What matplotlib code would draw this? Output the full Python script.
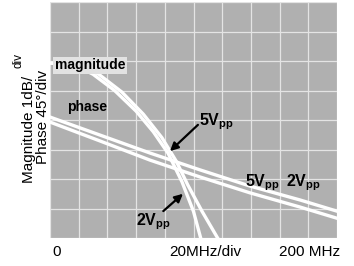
import numpy as np
import matplotlib
matplotlib.use('Agg')
import matplotlib.pyplot as plt

plt.rcParams['font.family'] = ['Liberation Sans', 'DejaVu Sans']
plt.rcParams['mathtext.fontset'] = 'custom'
plt.rcParams['mathtext.bf'] = 'Liberation Sans:bold'
plt.rcParams['mathtext.rm'] = 'Liberation Sans'

## data (x in MHz, y in screen divisions) ################

mag_5v_f = [0, 18.0, 30.0, 45.0, 60.0, 72.0, 82.2, 92.0, 100.0, 105.0]
mag_5v_y = [5.93, 5.85, 5.55, 5.00, 4.30, 3.60, 2.88, 1.90, 0.90, 0.0]
mag_2v_f = [0, 22.0, 34.0, 50.0, 65.0, 78.0, 88.0, 96.0, 106.0, 118.0]
mag_2v_y = [5.93, 5.85, 5.55, 4.95, 4.20, 3.40, 2.60, 1.80, 0.90, -0.1]

phase_5v_f = [0, 34.8, 69.7, 104.5, 139.4, 174.2, 202]
phase_5v_y = [4.10, 3.49, 2.88, 2.31, 1.76, 1.29, 0.88]
phase_2v_f = [0, 34.8, 69.7, 104.5, 139.4, 174.2, 202]
phase_2v_y = [3.93, 3.29, 2.64, 2.07, 1.53, 1.05, 0.64]

x_divs = 10
y_divs = 8
x_span = 200  # MHz, 20MHz/div

## figure ################################

fig = plt.figure(figsize=(3.54, 2.66), dpi=100)
ax = fig.add_axes([50/354, 1 - 238/266, 287/354, 236/266])
ax.set_facecolor('#b0b0b0')
ax.set_xlim(0, x_span)
ax.set_ylim(0, y_divs)

# scope graticule
for i in range(x_divs + 1):
    ax.axvline(i * x_span / x_divs, color='#e4e4e4', lw=0.9, zorder=1)
for j in range(y_divs + 1):
    ax.axhline(j, color='#e4e4e4', lw=0.9, zorder=1)

for f, y in [(mag_5v_f, mag_5v_y), (mag_2v_f, mag_2v_y),
             (phase_5v_f, phase_5v_y), (phase_2v_f, phase_2v_y)]:
    ax.plot(f, y, color='white', lw=2.4, zorder=2)

ax.set_xticks([])
ax.set_yticks([])
for s in ax.spines.values():
    s.set_visible(False)

# labels inside the screen
ax.text(27.9, 5.86, 'magnitude', fontsize=10, fontweight='bold', ha='center', va='center',
        zorder=3, bbox=dict(boxstyle='square,pad=0.1', fc='#e2e2e2', ec='none'))
ax.text(25.8, 4.44, 'phase', fontsize=10, fontweight='bold', ha='center', va='center', zorder=3)

ax.text(115.7, 3.93, r'$\mathbf{5V_{pp}}$', fontsize=11.5, ha='center', va='center', zorder=3)
ax.annotate('', xy=(82.2, 2.88), xytext=(104.5, 3.9), zorder=3,
            arrowprops=dict(arrowstyle='-|>', color='black', lw=1.6, mutation_scale=12))
ax.text(148.4, 1.86, r'$\mathbf{5V_{pp}}$', fontsize=11.5, ha='center', va='center', zorder=3)
ax.text(176.3, 1.86, r'$\mathbf{2V_{pp}}$', fontsize=11.5, ha='center', va='center', zorder=3)
ax.text(72.0, 0.55, r'$\mathbf{2V_{pp}}$', fontsize=11.5, ha='center', va='center', zorder=3)
ax.annotate('', xy=(94.1, 1.56), xytext=(77.5, 0.85), zorder=3,
            arrowprops=dict(arrowstyle='-|>', color='black', lw=1.6, mutation_scale=12))

# axis labels
fig.text(29/354, 1 - 129/266, 'Magnitude 1dB/', rotation=90, fontsize=11,
         ha='center', va='center')
fig.text(19/354, 1 - 60/266, 'div', rotation=90, fontsize=8.5, ha='center', va='center')
fig.text(43/354, 1 - 117/266, 'Phase 45\u00b0/div', rotation=90, fontsize=11,
         ha='center', va='center')

fig.text(57/354, 1 - 252/266, '0', fontsize=11, ha='center', va='center')
fig.text(205/354, 1 - 252/266, '20MHz/div', fontsize=11, ha='center', va='center')
fig.text(310/354, 1 - 252/266, '200 MHz', fontsize=11, ha='center', va='center')

fig.savefig('out.png', dpi=100)
